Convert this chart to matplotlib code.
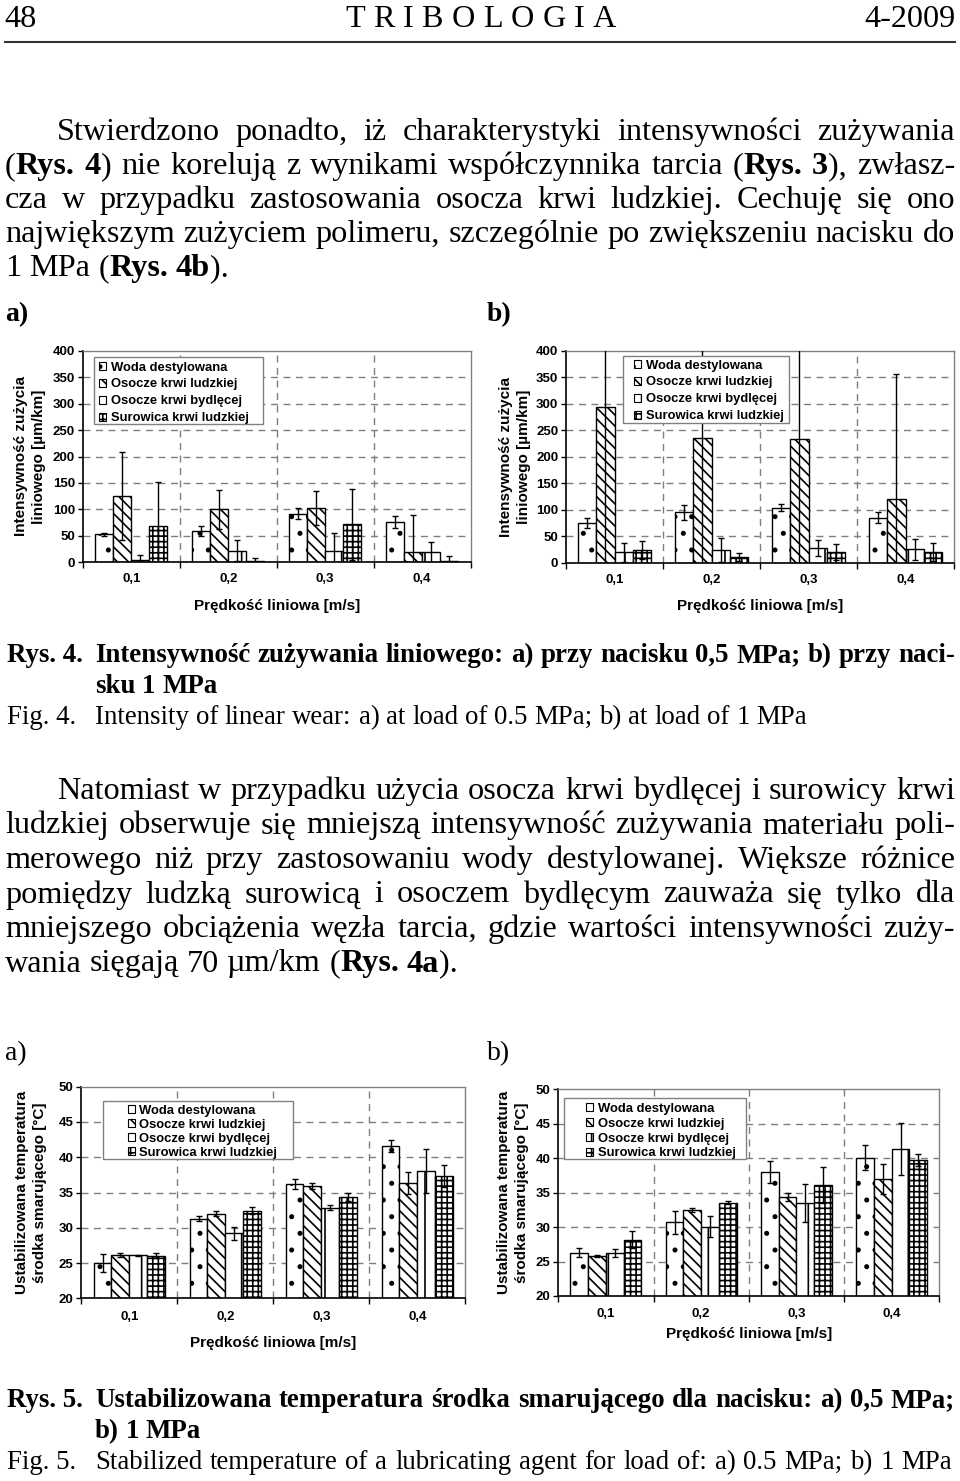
import matplotlib
matplotlib.use('Agg')
import matplotlib.pyplot as plt
from matplotlib.patches import Patch, Rectangle
from matplotlib.lines import Line2D
from matplotlib.font_manager import FontProperties
import numpy as np

W, H = 960, 1481
SANS = 'Liberation Sans'
SERIF = 'Liberation Serif'
plt.rcParams['hatch.linewidth'] = 1.2

# ---------------- data ----------------
speeds = ['0,1', '0,2', '0,3', '0,4']
series = ['Woda destylowana', 'Osocze krwi ludzkiej',
          'Osocze krwi bydlęcej', 'Surowica krwi ludzkiej']

# Rys. 4a  (0.5 MPa) wear intensity [um/km]
wear_a_woda = [53, 59, 92, 76]
wear_a_woda_err = [3, 9, 11, 11]
wear_a_ludz = [125, 100, 103, 19]
wear_a_ludz_err = [83, 37, 32, 70]
wear_a_bydl = [4, 22, 22, 19]
wear_a_bydl_err = [10, 20, 33, 20]
wear_a_sur = [69, 3, 72, 2]
wear_a_sur_err = [83, 6, 67, 9]

# Rys. 4b  (1 MPa)
wear_b_woda = [75, 95, 104, 85]
wear_b_woda_err = [10, 14, 7, 10]
wear_b_ludz = [293, 235, 233, 120]
wear_b_ludz_err = [320, 260, 280, 236]
wear_b_bydl = [20, 24, 28, 25]
wear_b_bydl_err = [18, 23, 15, 19]
wear_b_sur = [24, 11, 21, 21]
wear_b_sur_err = [17, 8, 15, 17]

# Rys. 5a  (0.5 MPa) temperature [C]
temp_a_woda = [25.0, 31.3, 36.25, 41.6]
temp_a_woda_err = [1.25, 0.4, 0.7, 0.9]
temp_a_ludz = [26.1, 32.0, 35.9, 36.35]
temp_a_ludz_err = [0.3, 0.4, 0.4, 1.55]
temp_a_bydl = [26.1, 29.2, 32.85, 38.05]
temp_a_bydl_err = [0.1, 0.9, 0.4, 3.1]
temp_a_sur = [26.05, 32.4, 34.4, 37.4]
temp_a_sur_err = [0.4, 0.5, 0.6, 1.55]

# Rys. 5b  (1 MPa)
temp_b_woda = [26.3, 30.7, 38.05, 40.1]
temp_b_woda_err = [0.6, 1.7, 1.6, 1.8]
temp_b_ludz = [25.8, 32.5, 34.4, 37.0]
temp_b_ludz_err = [0.1, 0.3, 0.6, 2.2]
temp_b_bydl = [26.2, 30.05, 33.45, 41.3]
temp_b_bydl_err = [0.6, 1.5, 2.75, 3.75]
temp_b_sur = [28.2, 33.55, 36.1, 39.7]
temp_b_sur_err = [1.2, 0.25, 2.6, 0.85]

hatches = ['.', '\\\\\\', '|', '+++']

fig = plt.figure(figsize=(W / 100, H / 100), dpi=100)
renderer = fig.canvas.get_renderer()


def fx(x):
    return x / W


def fy(y):
    return 1 - y / H


# ---------------- page text helpers ----------------
def text_width(t):
    return t.get_window_extent(renderer).width


def place_line(spec, x0, x1, yb, size, justify=True, bold0=False, family=SERIF):
    words = spec.split(' ')
    bold = bold0
    groups = []
    for w in words:
        pieces, buf = [], ''
        for ch in w:
            if ch == '*':
                if buf:
                    pieces.append((buf, bold))
                    buf = ''
                bold = not bold
            else:
                buf += ch
        if buf:
            pieces.append((buf, bold))
        groups.append(pieces)
    arts, widths = [], []
    for pieces in groups:
        wa, tot = [], 0
        for txt, b in pieces:
            fp = FontProperties(family=family, weight='bold' if b else 'normal', size=size)
            t = fig.text(0, fy(yb), txt, fontproperties=fp, va='baseline', ha='left')
            w_ = text_width(t)
            wa.append((t, w_))
            tot += w_
        arts.append(wa)
        widths.append(tot)
    n = len(widths)
    if justify and n > 1:
        gap = (x1 - x0 - sum(widths)) / (n - 1)
    else:
        gap = 0.25 * size * 100 / 72
    x = x0
    for wa, tot in zip(arts, widths):
        for t, w_ in wa:
            t.set_x(fx(x))
            x += w_
        x += gap


BODY = 23.2
CAP = 19.4

# header
fig.text(fx(4), fy(27), '48', fontsize=BODY, family=SERIF, va='baseline', ha='left')
fig.text(fx(956), fy(27), '4-2009', fontsize=BODY, family=SERIF, va='baseline', ha='right')
place_line('T R I B O L O G I A', 345, 616, 27, BODY)
fig.add_artist(Line2D([fx(5), fx(955)], [fy(41.5), fy(41.5)], transform=fig.transFigure,
                      color='#333333', lw=1.5))

# paragraph 1
p1 = [
    ('Stwierdzono ponadto, iż charakterystyki intensywności zużywania', 57, True),
    ('(*Rys. 4*) nie korelują z wynikami współczynnika tarcia (*Rys. 3*), zwłasz-', 5, True),
    ('cza w przypadku zastosowania osocza krwi ludzkiej. Cechuję się ono', 5, True),
    ('największym zużyciem polimeru, szczególnie po zwiększeniu nacisku do', 5, True),
    ('1 MPa (*Rys. 4b*).', 5, False),
]
for i, (s, x0, j) in enumerate(p1):
    place_line(s, x0, 955, 140 + 34 * i, BODY, justify=j)

fig.text(fx(5), fy(321), 'a)', fontsize=20, family=SERIF, weight='bold', va='baseline')
fig.text(fx(487), fy(321), 'b)', fontsize=20, family=SERIF, weight='bold', va='baseline')

# caption Rys. 4
fig.text(fx(7), fy(662), 'Rys. 4.', fontsize=CAP, family=SERIF, weight='bold', va='baseline')
place_line('Intensywność zużywania liniowego: a) przy nacisku 0,5 MPa; b) przy naci-',
           95, 955, 662, CAP, bold0=True)
place_line('sku 1 MPa', 95, 955, 693, CAP, justify=False, bold0=True)
fig.text(fx(7), fy(724), 'Fig. 4.', fontsize=CAP, family=SERIF, va='baseline')
place_line('Intensity of linear wear: a) at load of 0.5 MPa; b) at load of 1 MPa',
           95, 808, 724, CAP, justify=False)

# paragraph 2
p2 = [
    ('Natomiast w przypadku użycia osocza krwi bydlęcej i surowicy krwi', 57, True),
    ('ludzkiej obserwuje się mniejszą intensywność zużywania materiału poli-', 5, True),
    ('merowego niż przy zastosowaniu wody destylowanej. Większe różnice', 5, True),
    ('pomiędzy ludzką surowicą i osoczem bydlęcym zauważa się tylko dla', 5, True),
    ('mniejszego obciążenia węzła tarcia, gdzie wartości intensywności zuży-', 5, True),
    ('wania sięgają 70 µm/km (*Rys. 4a*).', 5, False),
]
for i, (s, x0, j) in enumerate(p2):
    place_line(s, x0, 955, 799 + 34.5 * i, BODY, justify=j)

fig.text(fx(5), fy(1060), 'a)', fontsize=20, family=SERIF, va='baseline')
fig.text(fx(487), fy(1060), 'b)', fontsize=20, family=SERIF, va='baseline')

# caption Rys. 5
fig.text(fx(7), fy(1407), 'Rys. 5.', fontsize=CAP, family=SERIF, weight='bold', va='baseline')
place_line('Ustabilizowana temperatura środka smarującego dla nacisku: a) 0,5 MPa;',
           95, 955, 1407, CAP, bold0=True)
place_line('b) 1 MPa', 95, 955, 1438, CAP, justify=False, bold0=True)
fig.text(fx(7), fy(1469), 'Fig. 5.', fontsize=CAP, family=SERIF, va='baseline')
place_line('Stabilized temperature of a lubricating agent for load of: a) 0.5 MPa; b) 1 MPa',
           95, 952, 1469, CAP, justify=True)


# ---------------- charts ----------------
def draw_chart(rect, vals, errs, ymin, ymax, ystep, ylabel, ylab_cx, xlab_cy, xpad,
               leg_box, leg_mark_x, leg_row1, leg_ls):
    L, T, R, B = rect
    ax = fig.add_axes([fx(L), fy(B), (R - L) / W, (B - T) / H])
    x = np.arange(len(speeds))
    bw = 0.186
    for i, (v, e, h) in enumerate(zip(vals, errs, hatches)):
        pos = x + (i - 1.5) * bw
        ax.bar(pos, v, width=bw, facecolor='white', edgecolor='black', hatch=h,
               linewidth=1.0, zorder=2)
        ax.errorbar(pos, v, yerr=e, fmt='none', ecolor='black', elinewidth=1.0,
                    capsize=2.5, capthick=1.0, zorder=3)
    ax.set_xlim(-0.5, 3.5)
    ax.set_ylim(ymin, ymax)
    yt = np.arange(ymin, ymax + ystep / 2, ystep)
    ax.set_yticks(yt)
    ax.set_yticklabels([str(int(v)) for v in yt])
    ax.set_xticks(x)
    ax.set_xticklabels(speeds)
    ax.set_xticks([-0.5, 0.5, 1.5, 2.5, 3.5], minor=True)
    ax.tick_params(axis='x', which='major', length=0, pad=xpad, labelsize=9.5)
    ax.tick_params(axis='x', which='minor', length=4, width=1, direction='out')
    ax.tick_params(axis='y', length=3.5, width=1, direction='out', pad=2, labelsize=9.5)
    for lab in ax.get_xticklabels() + ax.get_yticklabels():
        lab.set_fontfamily(SANS)
        lab.set_fontweight('bold')
    for yv in yt[1:-1]:
        ax.axhline(yv, color='#7f7f7f', lw=1.0, ls=(0, (5, 4)), zorder=0)
    for xv in [0.5, 1.5, 2.5]:
        ax.axvline(xv, color='#7f7f7f', lw=1.0, ls=(0, (5, 4)), zorder=0)
    for s in ['left', 'bottom']:
        ax.spines[s].set_color('black')
        ax.spines[s].set_linewidth(1.2)
    for s in ['top', 'right']:
        ax.spines[s].set_color('#808080')
        ax.spines[s].set_linewidth(1.0)
    fig.text(fx(ylab_cx), fy((T + B) / 2), ylabel, rotation=90, ha='center', va='center',
             fontsize=11, weight='bold', family=SANS, multialignment='center',
             linespacing=1.4)
    fig.text(fx((L + R) / 2), fy(xlab_cy), 'Prędkość liniowa [m/s]', ha='center',
             va='center', fontsize=11, weight='bold', family=SANS)
    bx0, by0, bx1, by1 = leg_box
    ax.add_patch(Rectangle((fx(bx0), fy(by1)), (bx1 - bx0) / W, (by1 - by0) / H,
                           transform=fig.transFigure, facecolor='white',
                           edgecolor='#808080', lw=1.0, clip_on=False, zorder=4))
    handles = [Patch(facecolor='white', edgecolor='black', hatch=h, lw=0.8) for h in hatches]
    leg = ax.legend(handles, series, loc='upper left',
                    bbox_to_anchor=(fx(leg_mark_x), fy(leg_row1 - 4.5)),
                    bbox_transform=fig.transFigure, frameon=False, borderpad=0,
                    borderaxespad=0, handlelength=0.55, handleheight=0.55,
                    handletextpad=0.35, labelspacing=leg_ls,
                    prop=dict(family=SANS, weight='bold', size=9.4))
    leg.set_zorder(5)
    return ax


wear_label = 'Intensywność zużycia\nliniowego [µm/km]'
temp_label = 'Ustabilizowana temperatura\nśrodka smarującego [°C]'

draw_chart((82.7, 350.7, 470.7, 562.3),
           [wear_a_woda, wear_a_ludz, wear_a_bydl, wear_a_sur],
           [wear_a_woda_err, wear_a_ludz_err, wear_a_bydl_err, wear_a_sur_err],
           0, 400, 50, wear_label, 30, 606, 7.8,
           (94.3, 357.3, 262.7, 424.3), 99.3, 366, 0.38)

draw_chart((566, 350.7, 954, 562.7),
           [wear_b_woda, wear_b_ludz, wear_b_bydl, wear_b_sur],
           [wear_b_woda_err, wear_b_ludz_err, wear_b_bydl_err, wear_b_sur_err],
           0, 400, 50, wear_label, 515, 606, 7.8,
           (623.3, 356, 789.3, 423.3), 634, 364, 0.38)

draw_chart((81.3, 1086.7, 465.3, 1298.3),
           [temp_a_woda, temp_a_ludz, temp_a_bydl, temp_a_sur],
           [temp_a_woda_err, temp_a_ludz_err, temp_a_bydl_err, temp_a_sur_err],
           20, 50, 5, temp_label, 31, 1343, 9.2,
           (103.3, 1100.7, 293.3, 1159.3), 127.7, 1109.3, 0.15)

draw_chart((558.3, 1089.3, 939.3, 1296),
           [temp_b_woda, temp_b_ludz, temp_b_bydl, temp_b_sur],
           [temp_b_woda_err, temp_b_ludz_err, temp_b_bydl_err, temp_b_sur_err],
           20, 50, 5, temp_label, 513, 1334, 8.5,
           (564.3, 1098.3, 745.7, 1159.3), 586, 1107.3, 0.22)

fig.savefig('out.png', dpi=100)
